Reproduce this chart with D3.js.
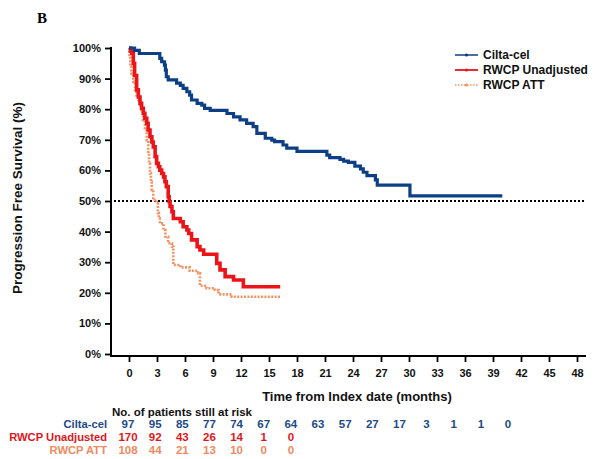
<!DOCTYPE html>
<html>
<head>
<meta charset="utf-8">
<script src="https://cdn.jsdelivr.net/npm/d3@7/dist/d3.min.js"></script>
<style>
  html, body { margin: 0; padding: 0; background: #fff; }
  svg { display: block; font-family: "Liberation Sans", Arial, sans-serif; }
</style>
</head>
<body>
<svg id="chart" width="597" height="459"></svg>
<script>
// Kaplan-Meier step points: [months, survival %]
const ciltaCel = [
  [0, 100], [0.6, 99.2], [1.1, 98.2], [3.3, 96.6], [3.5, 95.5], [3.8, 94.4],
  [3.9, 92.8], [4.0, 90.6], [4.2, 89.6], [5.1, 88.5], [5.5, 87.8], [5.8, 86.8],
  [6.2, 85.7], [6.5, 84.6], [6.7, 83.0], [7.3, 81.9], [7.8, 81.3], [8.1, 80.3],
  [8.7, 79.6], [10.5, 78.6], [11.2, 77.5], [11.9, 76.5], [12.6, 75.4], [13.3, 74.3],
  [13.7, 72.1], [14.6, 70.5], [15.3, 69.9], [15.6, 69.4], [16.5, 68.3], [16.9, 67.3],
  [18.0, 66.2], [21.2, 65.0], [21.5, 64.2], [22.6, 63.6], [23.0, 63.0], [23.5, 62.6],
  [24.2, 61.4], [24.8, 60.5], [25.1, 59.4], [25.5, 58.3], [26.4, 56.9], [26.6, 55.2],
  [30.1, 51.7], [40.0, 51.7]
];
const rwcpUnadjusted = [
  [0, 100], [0.15, 99.0], [0.3, 98.3], [0.46, 95.0], [0.6, 91.0], [0.82, 86.3],
  [1.0, 84.0], [1.18, 81.9], [1.35, 80.3], [1.53, 78.7], [1.7, 77.0], [1.9, 75.4],
  [2.05, 73.2], [2.25, 71.0], [2.45, 69.3], [2.6, 67.7], [2.8, 64.5], [2.96, 62.3],
  [3.15, 61.2], [3.3, 60.1], [3.5, 59.0], [3.7, 57.9], [3.85, 56.3], [4.0, 54.7],
  [4.2, 51.4], [4.3, 49.8], [4.4, 48.2], [4.6, 46.5], [4.75, 44.3], [5.5, 43.2],
  [5.8, 41.6], [6.2, 40.5], [6.4, 39.4], [6.7, 37.3], [7.3, 35.1], [7.6, 34.0],
  [8.0, 32.6], [9.4, 29.6], [9.75, 27.5], [10.3, 25.3], [11.2, 24.2], [12.25, 22.0],
  [16.2, 22.0]
];
const rwcpATT = [
  [0, 100], [0.05, 97.2], [0.15, 94.0], [0.25, 91.7], [0.45, 89.0], [0.64, 86.3],
  [0.8, 84.5], [1.0, 83.0], [1.2, 81.3], [1.36, 79.7], [1.5, 76.5], [1.7, 73.2],
  [1.9, 69.9], [2.07, 65.6], [2.15, 62.3], [2.25, 59.0], [2.35, 56.3], [2.43, 53.6],
  [2.6, 50.3], [2.96, 49.2], [3.1, 46.0], [3.2, 44.3], [3.3, 42.7], [3.7, 40.5],
  [3.9, 38.3], [4.2, 36.2], [4.6, 35.1], [4.75, 29.1], [5.5, 28.3], [6.5, 27.2],
  [7.4, 26.4], [7.6, 22.3], [8.3, 21.5], [9.2, 20.9], [9.6, 19.5], [11.0, 18.7],
  [16.2, 18.7]
];

const seriesNames = ["Cilta-cel", "RWCP Unadjusted", "RWCP ATT"];
const xTicks = d3.range(0, 49, 3);
const yTicks = d3.range(0, 101, 10);
const riskTimes = d3.range(0, 43, 3);
const riskCilta = [97, 95, 85, 77, 74, 67, 64, 63, 57, 27, 17, 3, 1, 1, 0];
const riskUnadjusted = [170, 92, 43, 26, 14, 1, 0];
const riskATT = [108, 44, 21, 13, 10, 0, 0];
const medianLevel = 50;

const colors = {
  "Cilta-cel": "#0d3f84",
  "RWCP Unadjusted": "#ea1419",
  "RWCP ATT": "#f29263"
};
const tableColors = {
  "Cilta-cel": "#1d4a86",
  "RWCP Unadjusted": "#e0161c",
  "RWCP ATT": "#ee8a5e"
};

const svg = d3.select("#chart");
const x = d3.scaleLinear().domain([0, 48]).range([129, 577]);
const y = d3.scaleLinear().domain([0, 100]).range([354, 48]);
const axisX0 = 111, axisY0 = 356, axisXEnd = 586;

// panel letter
svg.append("text").attr("x", 37).attr("y", 23)
  .style("font-family", "'Liberation Serif', 'Times New Roman', serif")
  .style("font-weight", "bold").style("font-size", "15px").text("B");

// y axis
const yAxis = svg.append("g").attr("transform", `translate(${axisX0},0)`)
  .call(d3.axisLeft(y).tickValues(yTicks).tickFormat(d => d + "%").tickSize(6).tickPadding(4).tickSizeOuter(0));
yAxis.select(".domain").remove();
yAxis.selectAll(".tick line").attr("stroke", "#000").attr("stroke-width", 1.8);
yAxis.selectAll(".tick text").style("font-size", "11px").style("font-weight", "bold").attr("fill", "#111");

// x axis
const xAxis = svg.append("g").attr("transform", `translate(0,${axisY0})`)
  .call(d3.axisBottom(x).tickValues(xTicks).tickSize(6).tickPadding(7).tickSizeOuter(0));
xAxis.select(".domain").remove();
xAxis.selectAll(".tick line").attr("stroke", "#000").attr("stroke-width", 1.8);
xAxis.selectAll(".tick text").style("font-size", "11px").style("font-weight", "bold").attr("fill", "#111");

// axis lines
svg.append("line").attr("x1", axisX0).attr("x2", axisX0).attr("y1", y(100) - 1).attr("y2", axisY0 + 1)
  .attr("stroke", "#000").attr("stroke-width", 2);
svg.append("line").attr("x1", axisX0).attr("x2", axisXEnd).attr("y1", axisY0).attr("y2", axisY0)
  .attr("stroke", "#000").attr("stroke-width", 2);

// 50% reference line
svg.append("line").attr("x1", axisX0 + 3).attr("x2", axisXEnd).attr("y1", y(medianLevel)).attr("y2", y(medianLevel))
  .attr("stroke", "#000").attr("stroke-width", 2).attr("stroke-dasharray", "2,2");

// axis titles
svg.append("text").attr("transform", `translate(22,198) rotate(-90)`)
  .attr("text-anchor", "middle").style("font-size", "13.5px").style("font-weight", "bold")
  .attr("fill", "#111").text("Progression Free Survival (%)");
svg.append("text").attr("x", 357).attr("y", 401).attr("text-anchor", "middle")
  .style("font-size", "13px").style("font-weight", "bold").attr("fill", "#111")
  .text("Time from Index date (months)");

// survival curves
const line = d3.line().x(d => x(d[0])).y(d => y(d[1])).curve(d3.curveStepAfter);
svg.append("path").datum(rwcpATT).attr("d", line).attr("fill", "none")
  .attr("stroke", colors["RWCP ATT"]).attr("stroke-width", 2.6).attr("stroke-dasharray", "2,1.4");
svg.append("path").datum(rwcpUnadjusted).attr("d", line).attr("fill", "none")
  .attr("stroke", colors["RWCP Unadjusted"]).attr("stroke-width", 3.6);
svg.append("path").datum(ciltaCel).attr("d", line).attr("fill", "none")
  .attr("stroke", colors["Cilta-cel"]).attr("stroke-width", 3.2);

// legend
const legend = svg.append("g").attr("transform", "translate(455,55)");
seriesNames.forEach((name, i) => {
  const g = legend.append("g").attr("transform", `translate(0,${i * 15})`);
  g.append("line").attr("x1", 0).attr("x2", 23).attr("y1", 0).attr("y2", 0)
    .attr("stroke", colors[name]).attr("stroke-width", name === "RWCP Unadjusted" ? 1.8 : 1.5)
    .attr("stroke-dasharray", name === "RWCP ATT" ? "1.5,1.5" : null);
  g.append("circle").attr("cx", 11.5).attr("cy", 0).attr("r", 1.6).attr("fill", colors[name]);
  g.append("text").attr("x", 28).attr("y", 0).attr("dy", "0.35em")
    .style("font-size", "12px").style("font-weight", "bold").attr("fill", "#111").text(name);
});

// number at risk table
const riskX = d3.scaleLinear().domain([0, 42]).range([128, 508]);
svg.append("text").attr("x", 112).attr("y", 416).style("font-size", "11.5px").style("font-weight", "bold")
  .attr("fill", "#111").text("No. of patients still at risk");
const rows = [
  { name: "Cilta-cel", values: riskCilta, yPos: 428 },
  { name: "RWCP Unadjusted", values: riskUnadjusted, yPos: 441 },
  { name: "RWCP ATT", values: riskATT, yPos: 454 }
];
rows.forEach(r => {
  svg.append("text").attr("x", 107).attr("y", r.yPos).attr("text-anchor", "end")
    .style("font-size", "11.2px").style("font-weight", "bold").attr("fill", tableColors[r.name]).text(r.name);
  svg.append("g").selectAll("text").data(r.values).join("text")
    .attr("x", (d, i) => riskX(riskTimes[i])).attr("y", r.yPos).attr("text-anchor", "middle")
    .style("font-size", "11.5px").style("font-weight", "bold").attr("fill", tableColors[r.name]).text(d => d);
});
</script>
</body>
</html>
